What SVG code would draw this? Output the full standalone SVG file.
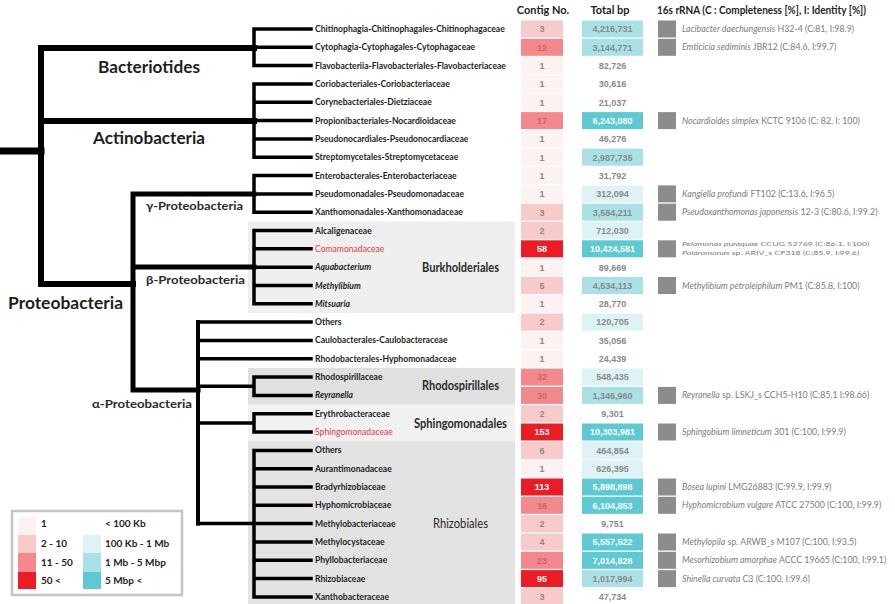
<svg xmlns="http://www.w3.org/2000/svg" width="895" height="604" viewBox="0 0 895 604">
<defs>
<style>
text{font-family:Lato,"Liberation Sans",sans-serif}
.leaf{font-size:8.6px;font-weight:bold;fill:#1e1e1e}
.red{font-size:8.6px;fill:#e23a3f}
.it{font-style:italic}
.num{font-size:9px;font-weight:bold;text-anchor:middle;fill:#8a8a8a;font-family:"Liberation Sans",sans-serif}
.wn{fill:#ffffff}
.mn{fill:#c9666b}
.rna{font-size:8.8px;fill:#7c7c7c}
.rs{font-size:6.3px;fill:#7c7c7c}
.hdr{font-size:11px;font-weight:bold;fill:#1e1e1e}
.big{font-size:17px;font-weight:bold;fill:#1e1e1e}
.mid{font-size:12px;font-weight:bold;fill:#2a2a2a}
.ord{font-size:12.5px;font-weight:bold;fill:#2a2a2a}
.ordn{font-size:12.5px;font-weight:normal;fill:#2a2a2a}
.leg{font-size:10px;font-weight:bold;fill:#222}
.c1{fill:#fdf2f2}.c2{fill:#f9caca}.c3{fill:#f3898c}.c4{fill:#ed1c24}
.b0{fill:#ffffff}.b1{fill:#def3f5}.b2{fill:#a9e1e7}.b3{fill:#5cc9d3}
.sq{fill:#8c8c8c}
.t{fill:none;stroke:#000;stroke-linecap:square}
</style>
</defs>
<rect width="895" height="604" fill="#fff"/>
<g id="bands">
<rect x="248" y="221.3" width="267" height="91.7" fill="#efefef"/>
<rect x="248" y="367.9" width="267" height="36.7" fill="#e0e0e0"/>
<rect x="248" y="404.6" width="267" height="36.6" fill="#f1f1f1"/>
<rect x="248" y="441.2" width="267" height="162.8" fill="#e3e3e3"/>
</g>
<g id="connectors">
<path class="t" stroke-width="7" d="M3,151H41"/>
<path class="t" stroke-width="6" d="M41,48V284M41,48H254M41,121H254M41,284H133"/>
<path class="t" stroke-width="5" d="M133,194V390M133,194H254M133,267H254M133,390H198"/>
<path class="t" stroke-width="4" d="M198,322.1V523.6"/>
<path class="t" stroke-width="3.5" d="M254,29V65.6M254,29H311M254,47.3H311M254,65.6H311
M254,84V157.2M254,84H311M254,102.3H311M254,120.6H311M254,138.9H311M254,157.2H311
M254,175.6V212.2M254,175.6H311M254,193.9H311M254,212.2H311
M254,230.5V303.8M254,230.5H311M254,248.8H311M254,267.2H311M254,285.5H311M254,303.8H311
M198,322.1H311M198,340.4H311M198,358.8H311
M198,386.2H254M254,377.1V395.4M254,377.1H311M254,395.4H311
M198,422.9H254M254,413.7V432M254,413.7H311M254,432H311
M198,523.6H254M254,450.4V596.9M254,450.4H311M254,468.7H311M254,487H311M254,505.3H311M254,523.6H311M254,542H311M254,560.3H311M254,578.6H311M254,596.9H311"/>
</g>
<g id="clades">
<text class="big" x="98" y="73" textLength="102" lengthAdjust="spacingAndGlyphs">Bacteriotides</text>
<text class="big" x="93" y="144" textLength="112" lengthAdjust="spacingAndGlyphs">Actinobacteria</text>
<text class="big" x="8" y="309" textLength="115" lengthAdjust="spacingAndGlyphs">Proteobacteria</text>
<text class="mid" x="146" y="210" textLength="97" lengthAdjust="spacingAndGlyphs">γ-Proteobacteria</text>
<text class="mid" x="146" y="284" textLength="99" lengthAdjust="spacingAndGlyphs">β-Proteobacteria</text>
<text class="mid" x="92" y="408" textLength="100" lengthAdjust="spacingAndGlyphs">α-Proteobacteria</text>
<text class="ord" x="422" y="272" textLength="77" lengthAdjust="spacingAndGlyphs">Burkholderiales</text>
<text class="ord" x="422" y="389.5" textLength="77" lengthAdjust="spacingAndGlyphs">Rhodospirillales</text>
<text class="ord" x="414" y="427.5" textLength="93" lengthAdjust="spacingAndGlyphs">Sphingomonadales</text>
<text class="ordn" x="433" y="528" textLength="55" lengthAdjust="spacingAndGlyphs">Rhizobiales</text>
</g>
<g id="headers">
<text class="hdr" x="543" y="14" text-anchor="middle">Contig No.</text>
<text class="hdr" x="610" y="14" text-anchor="middle">Total bp</text>
<text class="hdr" x="657" y="14" textLength="209" lengthAdjust="spacingAndGlyphs">16s rRNA (C : Completeness [%], I: Identity [%])</text>
</g>
<g id="row1"><text class="leaf" x="315" y="32">Chitinophagia-Chitinophagales-Chitinophagaceae</text><rect class="c2" x="521" y="20.5" width="42" height="17"/><text class="num" x="542" y="32.3">3</text><rect class="b2" x="582" y="20.5" width="61" height="17"/><text class="num" x="612.5" y="32.3">4,216,731</text><rect class="sq" x="658" y="20.5" width="18" height="17"/><text class="rna" x="682" y="32"><tspan class="it">Lacibacter daechungensis</tspan> H32-4 (C:81, I:98.9)</text></g>
<g id="row2"><text class="leaf" x="315" y="50.3">Cytophagia-Cytophagales-Cytophagaceae</text><rect class="c3" x="521" y="38.8" width="42" height="17"/><text class="num mn" x="542" y="50.6">12</text><rect class="b2" x="582" y="38.8" width="61" height="17"/><text class="num" x="612.5" y="50.6">3,144,771</text><rect class="sq" x="658" y="38.8" width="18" height="17"/><text class="rna" x="682" y="50.3"><tspan class="it">Emticicia sediminis</tspan> JBR12 (C:84.6, I:99.7)</text></g>
<g id="row3"><text class="leaf" x="315" y="68.6">Flavobacteriia-Flavobacteriales-Flavobacteriaceae</text><rect class="c1" x="521" y="57.1" width="42" height="17"/><text class="num" x="542" y="68.9">1</text><text class="num" x="612.5" y="68.9">82,726</text></g>
<g id="row4"><text class="leaf" x="315" y="87">Coriobacteriales-Coriobacteriaceae</text><rect class="c1" x="521" y="75.5" width="42" height="17"/><text class="num" x="542" y="87.3">1</text><text class="num" x="612.5" y="87.3">30,616</text></g>
<g id="row5"><text class="leaf" x="315" y="105.3">Corynebacteriales-Dietziaceae</text><rect class="c1" x="521" y="93.8" width="42" height="17"/><text class="num" x="542" y="105.6">1</text><text class="num" x="612.5" y="105.6">21,037</text></g>
<g id="row6"><text class="leaf" x="315" y="123.6">Propionibacteriales-Nocardioidaceae</text><rect class="c3" x="521" y="112.1" width="42" height="17"/><text class="num mn" x="542" y="123.9">17</text><rect class="b3" x="582" y="112.1" width="61" height="17"/><text class="num wn" x="612.5" y="123.9">6,243,080</text><rect class="sq" x="658" y="112.1" width="18" height="17"/><text class="rna" x="682" y="123.6"><tspan class="it">Nocardioides simplex</tspan> KCTC 9106 (C: 82, I: 100)</text></g>
<g id="row7"><text class="leaf" x="315" y="141.9">Pseudonocardiales-Pseudonocardiaceae</text><rect class="c1" x="521" y="130.4" width="42" height="17"/><text class="num" x="542" y="142.2">1</text><text class="num" x="612.5" y="142.2">46,276</text></g>
<g id="row8"><text class="leaf" x="315" y="160.2">Streptomycetales-Streptomycetaceae</text><rect class="c1" x="521" y="148.7" width="42" height="17"/><text class="num" x="542" y="160.5">1</text><rect class="b2" x="582" y="148.7" width="61" height="17"/><text class="num" x="612.5" y="160.5">2,987,735</text></g>
<g id="row9"><text class="leaf" x="315" y="178.6">Enterobacterales-Enterobacteriaceae</text><rect class="c1" x="521" y="167.1" width="42" height="17"/><text class="num" x="542" y="178.9">1</text><text class="num" x="612.5" y="178.9">31,792</text></g>
<g id="row10"><text class="leaf" x="315" y="196.9">Pseudomonadales-Pseudomonadaceae</text><rect class="c1" x="521" y="185.4" width="42" height="17"/><text class="num" x="542" y="197.2">1</text><rect class="b1" x="582" y="185.4" width="61" height="17"/><text class="num" x="612.5" y="197.2">312,094</text><rect class="sq" x="658" y="185.4" width="18" height="17"/><text class="rna" x="682" y="196.9"><tspan class="it">Kangiella profundi</tspan> FT102 (C:13.6, I:96.5)</text></g>
<g id="row11"><text class="leaf" x="315" y="215.2">Xanthomonadales-Xanthomonadaceae</text><rect class="c2" x="521" y="203.7" width="42" height="17"/><text class="num" x="542" y="215.5">3</text><rect class="b2" x="582" y="203.7" width="61" height="17"/><text class="num" x="612.5" y="215.5">3,584,211</text><rect class="sq" x="658" y="203.7" width="18" height="17"/><text class="rna" x="682" y="215.2"><tspan class="it">Pseudoxanthomonas japonensis</tspan> 12-3 (C:80.6, I:99.2)</text></g>
<g id="row12"><text class="leaf" x="315" y="233.5">Alcaligenaceae</text><rect class="c2" x="521" y="222" width="42" height="17"/><text class="num" x="542" y="233.8">2</text><rect class="b1" x="582" y="222" width="61" height="17"/><text class="num" x="612.5" y="233.8">712,030</text></g>
<g id="row13"><text class="red" x="315" y="251.8">Comamonadaceae</text><rect class="c4" x="521" y="240.3" width="42" height="17"/><text class="num wn" x="542" y="252.1">58</text><rect class="b3" x="582" y="240.3" width="61" height="17"/><text class="num wn" x="612.5" y="252.1">10,424,581</text><rect class="sq" x="658" y="240.3" width="18" height="17"/><text class="rs" transform="matrix(1.4,0,0,1,682,245.6)"><tspan class="it">Pelomonas puraquae</tspan> CCUG 52769 (C:86.1, I:100)</text><text class="rs" transform="matrix(1.4,0,0,1,682,254.6)"><tspan class="it">Polaromonas</tspan> sp. ARIV_s CF318 (C:85.9, I:99.6)</text></g>
<g id="row14"><text class="leaf it" x="315" y="270.2">Aquabacterium</text><rect class="c1" x="521" y="258.7" width="42" height="17"/><text class="num" x="542" y="270.5">1</text><text class="num" x="612.5" y="270.5">89,669</text></g>
<g id="row15"><text class="leaf it" x="315" y="288.5">Methylibium</text><rect class="c2" x="521" y="277" width="42" height="17"/><text class="num" x="542" y="288.8">5</text><rect class="b2" x="582" y="277" width="61" height="17"/><text class="num" x="612.5" y="288.8">4,534,113</text><rect class="sq" x="658" y="277" width="18" height="17"/><text class="rna" x="682" y="288.5"><tspan class="it">Methylibium petroleiphilum</tspan> PM1 (C:85.8, I:100)</text></g>
<g id="row16"><text class="leaf it" x="315" y="306.8">Mitsuaria</text><rect class="c1" x="521" y="295.3" width="42" height="17"/><text class="num" x="542" y="307.1">1</text><text class="num" x="612.5" y="307.1">28,770</text></g>
<g id="row17"><text class="leaf" x="315" y="325.1">Others</text><rect class="c2" x="521" y="313.6" width="42" height="17"/><text class="num" x="542" y="325.4">2</text><rect class="b1" x="582" y="313.6" width="61" height="17"/><text class="num" x="612.5" y="325.4">120,705</text></g>
<g id="row18"><text class="leaf" x="315" y="343.4">Caulobacterales-Caulobacteraceae</text><rect class="c1" x="521" y="331.9" width="42" height="17"/><text class="num" x="542" y="343.7">1</text><text class="num" x="612.5" y="343.7">35,056</text></g>
<g id="row19"><text class="leaf" x="315" y="361.8">Rhodobacterales-Hyphomonadaceae</text><rect class="c1" x="521" y="350.3" width="42" height="17"/><text class="num" x="542" y="362.1">1</text><text class="num" x="612.5" y="362.1">24,439</text></g>
<g id="row20"><text class="leaf" x="315" y="380.1">Rhodospirillaceae</text><rect class="c3" x="521" y="368.6" width="42" height="17"/><text class="num mn" x="542" y="380.4">32</text><rect class="b1" x="582" y="368.6" width="61" height="17"/><text class="num" x="612.5" y="380.4">548,435</text></g>
<g id="row21"><text class="leaf it" x="315" y="398.4">Reyranella</text><rect class="c3" x="521" y="386.9" width="42" height="17"/><text class="num mn" x="542" y="398.7">30</text><rect class="b2" x="582" y="386.9" width="61" height="17"/><text class="num" x="612.5" y="398.7">1,346,960</text><rect class="sq" x="658" y="386.9" width="18" height="17"/><text class="rna" x="682" y="398.4"><tspan class="it">Reyranella</tspan> sp. LSKJ_s CCH5-H10 (C:85.1 I:98.66)</text></g>
<g id="row22"><text class="leaf" x="315" y="416.7">Erythrobacteraceae</text><rect class="c2" x="521" y="405.2" width="42" height="17"/><text class="num" x="542" y="417">2</text><text class="num" x="612.5" y="417">9,301</text></g>
<g id="row23"><text class="red" x="315" y="435">Sphingomonadaceae</text><rect class="c4" x="521" y="423.5" width="42" height="17"/><text class="num wn" x="542" y="435.3">153</text><rect class="b3" x="582" y="423.5" width="61" height="17"/><text class="num wn" x="612.5" y="435.3">10,303,981</text><rect class="sq" x="658" y="423.5" width="18" height="17"/><text class="rna" x="682" y="435"><tspan class="it">Sphingobium limneticum</tspan> 301 (C:100, I:99.9)</text></g>
<g id="row24"><text class="leaf" x="315" y="453.4">Others</text><rect class="c2" x="521" y="441.9" width="42" height="17"/><text class="num" x="542" y="453.7">6</text><rect class="b1" x="582" y="441.9" width="61" height="17"/><text class="num" x="612.5" y="453.7">464,854</text></g>
<g id="row25"><text class="leaf" x="315" y="471.7">Aurantimonadaceae</text><rect class="c1" x="521" y="460.2" width="42" height="17"/><text class="num" x="542" y="472">1</text><rect class="b1" x="582" y="460.2" width="61" height="17"/><text class="num" x="612.5" y="472">626,395</text></g>
<g id="row26"><text class="leaf" x="315" y="490">Bradyrhizobiaceae</text><rect class="c4" x="521" y="478.5" width="42" height="17"/><text class="num wn" x="542" y="490.3">113</text><rect class="b3" x="582" y="478.5" width="61" height="17"/><text class="num wn" x="612.5" y="490.3">5,898,898</text><rect class="sq" x="658" y="478.5" width="18" height="17"/><text class="rna" x="682" y="490"><tspan class="it">Bosea lupini</tspan> LMG26883 (C:99.9, I:99.9)</text></g>
<g id="row27"><text class="leaf" x="315" y="508.3">Hyphomicrobiaceae</text><rect class="c3" x="521" y="496.8" width="42" height="17"/><text class="num mn" x="542" y="508.6">16</text><rect class="b3" x="582" y="496.8" width="61" height="17"/><text class="num wn" x="612.5" y="508.6">6,104,853</text><rect class="sq" x="658" y="496.8" width="18" height="17"/><text class="rna" x="682" y="508.3"><tspan class="it">Hyphomicrobium vulgare</tspan> ATCC 27500 (C:100, I:99.9)</text></g>
<g id="row28"><text class="leaf" x="315" y="526.6">Methylobacteriaceae</text><rect class="c2" x="521" y="515.1" width="42" height="17"/><text class="num" x="542" y="526.9">2</text><text class="num" x="612.5" y="526.9">9,751</text></g>
<g id="row29"><text class="leaf" x="315" y="545">Methylocystaceae</text><rect class="c2" x="521" y="533.5" width="42" height="17"/><text class="num" x="542" y="545.3">4</text><rect class="b3" x="582" y="533.5" width="61" height="17"/><text class="num wn" x="612.5" y="545.3">5,557,522</text><rect class="sq" x="658" y="533.5" width="18" height="17"/><text class="rna" x="682" y="545"><tspan class="it">Methylopila</tspan> sp. ARWB_s M107 (C:100, I:93.5)</text></g>
<g id="row30"><text class="leaf" x="315" y="563.3">Phyllobacteriaceae</text><rect class="c3" x="521" y="551.8" width="42" height="17"/><text class="num mn" x="542" y="563.6">23</text><rect class="b3" x="582" y="551.8" width="61" height="17"/><text class="num wn" x="612.5" y="563.6">7,014,828</text><rect class="sq" x="658" y="551.8" width="18" height="17"/><text class="rna" x="682" y="563.3"><tspan class="it">Mesorhizobium amorphae</tspan> ACCC 19665 (C:100, I:99.1)</text></g>
<g id="row31"><text class="leaf" x="315" y="581.6">Rhizobiaceae</text><rect class="c4" x="521" y="570.1" width="42" height="17"/><text class="num wn" x="542" y="581.9">95</text><rect class="b2" x="582" y="570.1" width="61" height="17"/><text class="num" x="612.5" y="581.9">1,017,994</text><rect class="sq" x="658" y="570.1" width="18" height="17"/><text class="rna" x="682" y="581.6"><tspan class="it">Shinella curvata</tspan> C3 (C:100, I:99.6)</text></g>
<g id="row32"><text class="leaf" x="315" y="599.9">Xanthobacteraceae</text><rect class="c2" x="521" y="588.4" width="42" height="15.6"/><text class="num" x="542" y="600.2">3</text><text class="num" x="612.5" y="600.2">47,734</text></g>
<g id="legend">
<rect x="12" y="511" width="170" height="84" fill="#fff" stroke="#c4c4c4" stroke-width="2.5"/>
<rect class="c1" x="18" y="517" width="18" height="18"/>
<rect class="c2" x="18" y="535" width="18" height="18"/>
<rect class="c3" x="18" y="553" width="18" height="19"/>
<rect class="c4" x="18" y="572" width="18" height="17"/>
<rect class="b0" x="83" y="517" width="18" height="18"/>
<rect class="b1" x="83" y="535" width="18" height="18"/>
<rect class="b2" x="83" y="553" width="18" height="19"/>
<rect class="b3" x="83" y="572" width="18" height="17"/>
<text class="leg" x="41" y="527">1</text>
<text class="leg" x="41" y="547">2 - 10</text>
<text class="leg" x="41" y="566">11 - 50</text>
<text class="leg" x="41" y="584">50 &lt;</text>
<text class="leg" x="105" y="527">&lt; 100 Kb</text>
<text class="leg" x="105" y="547">100 Kb - 1 Mb</text>
<text class="leg" x="105" y="566">1 Mb - 5 Mbp</text>
<text class="leg" x="105" y="584">5 Mbp &lt;</text>
</g>
</svg>
